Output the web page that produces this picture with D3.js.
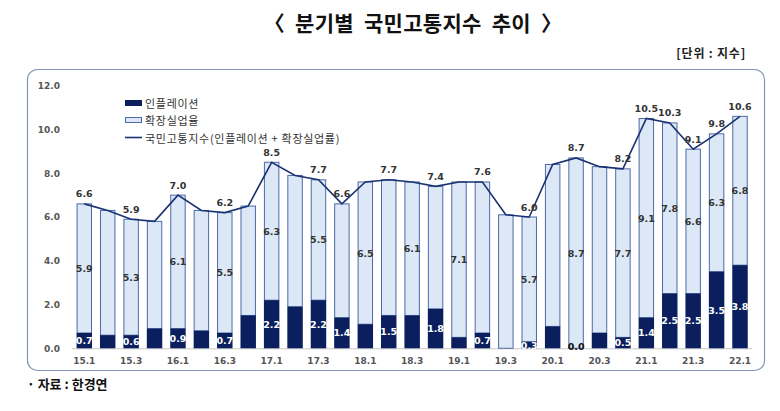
<!DOCTYPE html>
<html><head><meta charset="utf-8">
<script src="https://cdn.jsdelivr.net/npm/d3@7"></script>
<style>body{margin:0;background:#fff}svg{display:block}</style>
</head><body><svg id="c" width="780" height="411"></svg>
<script>
const quarters = ["15.1","15.2","15.3","15.4","16.1","16.2","16.3","16.4","17.1","17.2","17.3","17.4","18.1","18.2","18.3","18.4","19.1","19.2","19.3","19.4","20.1","20.2","20.3","20.4","21.1","21.2","21.3","21.4","22.1"];
const inflation = [0.7,0.6,0.6,0.9,0.9,0.8,0.7,1.5,2.2,1.9,2.2,1.4,1.1,1.5,1.5,1.8,0.5,0.7,0.0,0.3,1.0,0.0,0.7,0.5,1.4,2.5,2.5,3.5,3.8];
const unemployment = [5.9,5.7,5.3,4.9,6.1,5.5,5.5,5.0,6.3,6.0,5.5,5.2,6.5,6.2,6.1,5.6,7.1,6.9,6.1,5.7,7.4,8.7,7.6,7.7,9.1,7.8,6.6,6.3,6.8];
const misery = [6.6,6.3,5.9,5.8,7.0,6.3,6.2,6.5,8.5,7.9,7.7,6.6,7.6,7.7,7.6,7.4,7.6,7.6,6.1,6.0,8.4,8.7,8.3,8.2,10.5,10.3,9.1,9.8,10.6];
const totalLabeled = ["15.1","15.3","16.1","16.3","17.1","17.3","17.4","18.2","18.4","19.2","19.4","20.2","20.4","21.1","21.2","21.3","21.4","22.1"];
const unempLabeled = ["15.1","15.3","16.1","16.3","17.1","17.3","18.1","18.3","19.1","19.4","20.2","20.4","21.1","21.2","21.3","21.4","22.1"];
const inflLabeled = ["15.1","15.3","16.1","16.3","17.1","17.3","17.4","18.2","18.4","19.2","19.4","20.2","20.4","21.1","21.2","21.3","21.4","22.1"];
const xTickLabels = ["15.1","15.3","16.1","16.3","17.1","17.3","18.1","18.3","19.1","19.3","20.1","20.3","21.1","21.3","22.1"];
const yTicks = [0,2,4,6,8,10,12];
const seriesNames = ["인플레이션","확장실업율","국민고통지수(인플레이션 + 확장실업률)"];

const svg = d3.select("#c");
const DARK = "#0b1f5e", LIGHT = "#dce8f6", LSTROKE = "#4d6aa8", LINE = "#1a3272";
const numFont = "'DejaVu Sans', Verdana, sans-serif";
const krFont = "'Noto Sans CJK KR', 'Noto Sans', sans-serif";

// title
svg.append("text").attr("x",413).attr("y",31).attr("text-anchor","middle")
  .attr("font-family",krFont).attr("font-weight","bold").attr("font-size",21).attr("fill","#111")
  .attr("word-spacing",5).attr("letter-spacing",0.3)
  .text("〈 분기별 국민고통지수 추이 〉");
svg.append("text").attr("x",746).attr("y",58).attr("text-anchor","end")
  .attr("font-family",krFont).attr("font-weight","bold").attr("font-size",12).attr("fill","#222")
  .attr("letter-spacing",0.8)
  .text("[단위 : 지수]");
// frame
svg.append("rect").attr("x",27.5).attr("y",69.5).attr("width",737).attr("height",301).attr("rx",10)
  .attr("fill","#fff").attr("stroke","#8394b8").attr("stroke-width",1.2);
// source
svg.append("text").attr("x",27).attr("y",389)
  .attr("font-family",krFont).attr("font-weight","bold").attr("font-size",13).attr("fill","#111")
  .text("· 자료 : 한경연");

const x = d3.scaleBand().domain(quarters).range([68.6,755.7]).paddingInner(0.34).paddingOuter(0.34);
const y = d3.scaleLinear().domain([0,12]).range([348.3,85.7]);

// baseline
svg.append("line").attr("x1",72).attr("x2",752).attr("y1",y(0)+0.5).attr("y2",y(0)+0.5)
  .attr("stroke","#c8c8c8").attr("stroke-width",1);

// y axis
const yAxis = svg.append("g").attr("transform","translate(60,0)")
  .call(d3.axisLeft(y).tickValues(yTicks).tickFormat(d3.format(".1f")).tickSize(0).tickPadding(0));
yAxis.select(".domain").remove();
yAxis.selectAll("text").attr("font-family",numFont).attr("font-weight","bold").attr("font-size",9).attr("fill","#555");

// x axis
const xAxis = svg.append("g").attr("transform",`translate(0,${y(0)})`)
  .call(d3.axisBottom(x).tickValues(xTickLabels).tickSize(0).tickPadding(9));
xAxis.select(".domain").remove();
xAxis.selectAll("text").attr("font-family",numFont).attr("font-weight","bold").attr("font-size",9).attr("fill","#555");

const data = quarters.map((q,i)=>({q, infl:inflation[i], unemp:unemployment[i], total:misery[i]}));
const bw = x.bandwidth();

// unemployment (stacked on inflation)
svg.append("g").selectAll("rect").data(data).join("rect")
  .attr("x",d=>x(d.q)+0.5).attr("width",bw-1)
  .attr("y",d=>y(d.infl+d.unemp)).attr("height",d=>y(d.infl)-y(d.infl+d.unemp))
  .attr("fill",LIGHT).attr("stroke",LSTROKE).attr("stroke-width",1);
// inflation
svg.append("g").selectAll("rect").data(data.filter(d=>d.infl>0)).join("rect")
  .attr("x",d=>x(d.q)).attr("width",bw)
  .attr("y",d=>y(d.infl)).attr("height",d=>y(0)-y(d.infl))
  .attr("fill",DARK);

// line
svg.append("path").datum(data)
  .attr("d",d3.line().x(d=>x(d.q)+bw/2).y(d=>y(d.total)))
  .attr("fill","none").attr("stroke",LINE).attr("stroke-width",1.6);

const fmt = d3.format(".1f");
const lbl = (sel)=>sel.attr("text-anchor","middle").attr("font-family",numFont)
  .attr("font-weight","bold").attr("font-size",9.5).attr("dominant-baseline","central");
// total labels
lbl(svg.append("g").selectAll("text").data(data.filter(d=>totalLabeled.includes(d.q))).join("text")
  .attr("x",d=>x(d.q)+bw/2).attr("y",d=>y(d.total)-10).attr("fill","#333").text(d=>fmt(d.total)));
// unemployment labels
lbl(svg.append("g").selectAll("text").data(data.filter(d=>unempLabeled.includes(d.q))).join("text")
  .attr("x",d=>x(d.q)+bw/2).attr("y",d=>y(d.infl+d.unemp/2)).attr("fill","#333").text(d=>fmt(d.unemp)));
// inflation labels
lbl(svg.append("g").selectAll("text").data(data.filter(d=>inflLabeled.includes(d.q))).join("text")
  .attr("x",d=>x(d.q)+bw/2).attr("y",d=>d.infl>0.2?y(d.infl/2):y(0)-2)
  .attr("fill",d=>d.infl>0.2?"#fff":"#111").text(d=>fmt(d.infl)));

// legend
const lg = svg.append("g").attr("font-family",krFont).attr("font-size",11).attr("fill","#333").attr("letter-spacing",0.7);
lg.append("rect").attr("x",125).attr("y",100).attr("width",17).attr("height",6).attr("fill",DARK);
lg.append("rect").attr("x",125.5).attr("y",117.5).attr("width",16).attr("height",5).attr("fill",LIGHT).attr("stroke",LSTROKE);
lg.append("line").attr("x1",125).attr("x2",142).attr("y1",137.5).attr("y2",137.5).attr("stroke",LINE).attr("stroke-width",1.6);
[103,120,137.5].forEach((yy,i)=>lg.append("text").attr("x",145).attr("y",yy)
  .attr("dominant-baseline","central").attr("fill","#333").text(seriesNames[i]));
</script></body></html>
